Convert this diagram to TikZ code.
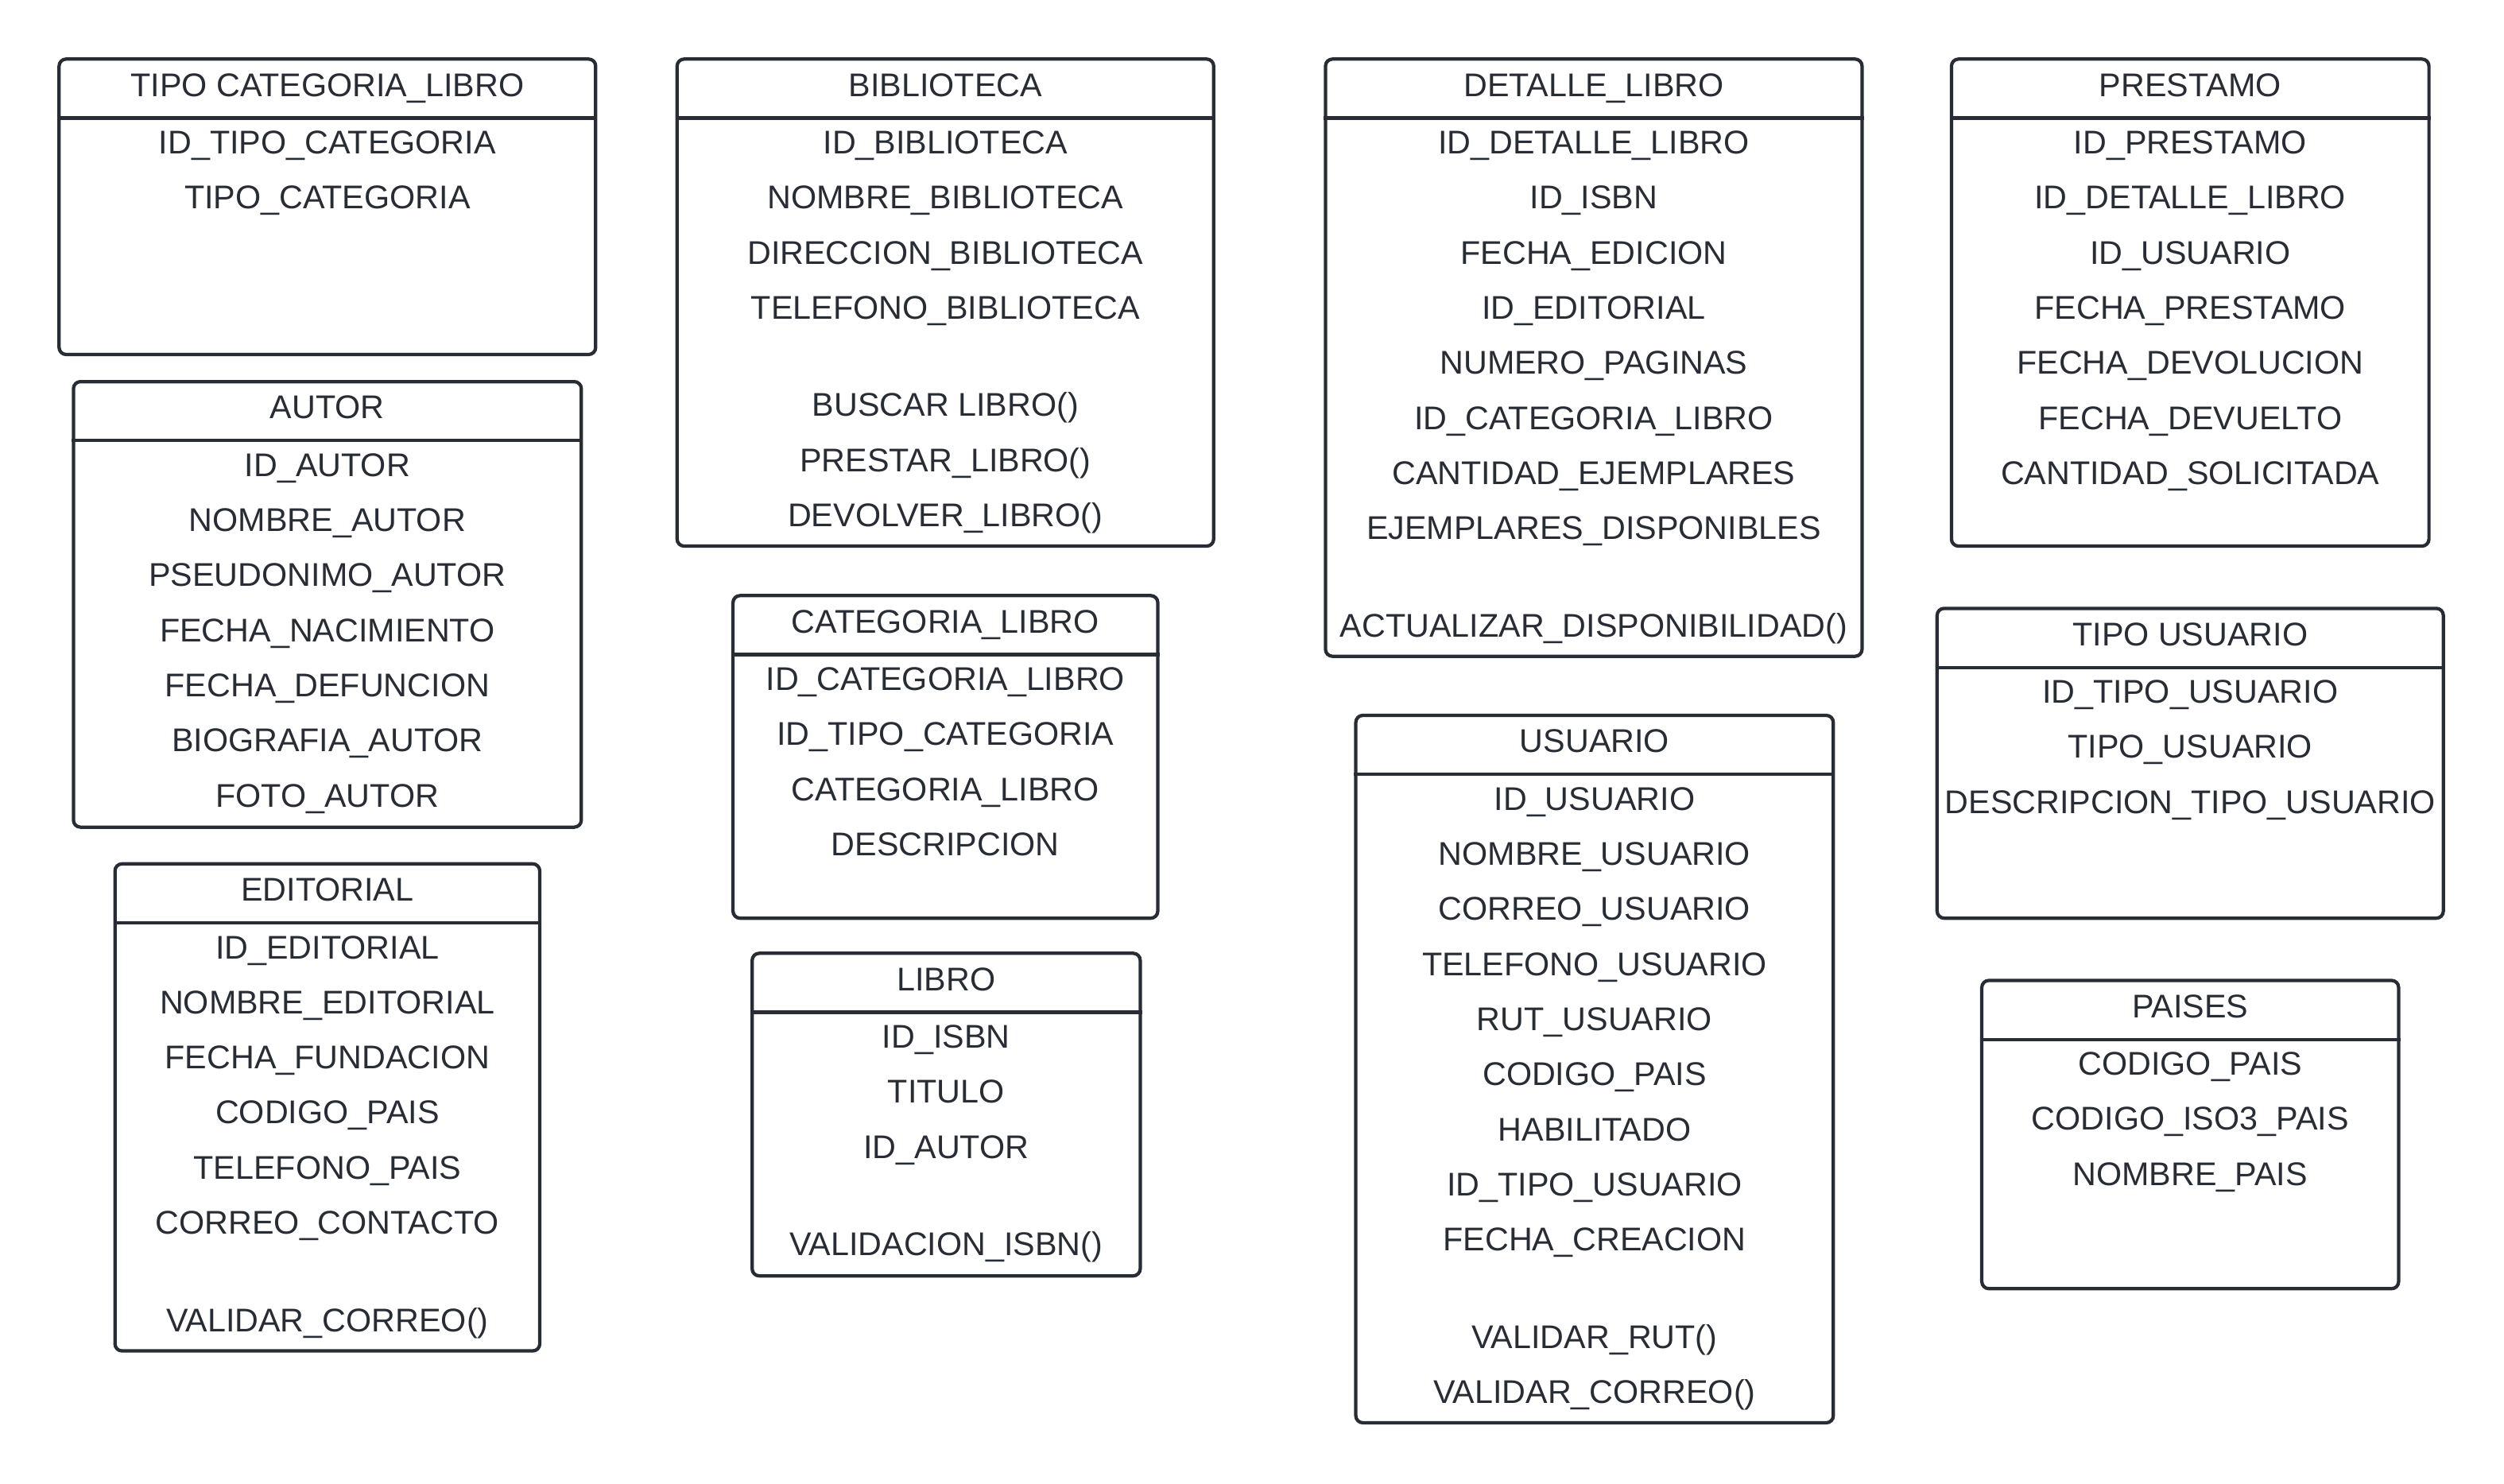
\documentclass[tikz,border=0pt]{standalone}
\usepackage{fontspec}
\setmainfont{Liberation Sans}
\usetikzlibrary{calc,fit}

\definecolor{trazo}{RGB}{40,44,52}

\tikzset{
  caja/.style={draw=trazo, line width=1.2pt, rounded corners=2.5pt, inner sep=0pt},
  cabecera/.style={draw=trazo, line width=1.2pt},
  titulo/.style={anchor=base, inner sep=0pt, yshift=-4.2pt, text=trazo,
    font=\fontsize{11.7pt}{14pt}\selectfont},
  fila/.style={titulo},
}

% caja de una entidad: nombre, izq, arriba, der, abajo, titulo, atributos
\newcommand{\entidad}[7]{%
  \node[caja, fit={(#2,#3) (#4,#5)}] (#1) {};
  \draw[cabecera] ($(#1.north west)+(0,38)$) -- ($(#1.north east)+(0,38)$);
  \node[titulo] (#1-t) at ($(#1.north)+(0,17)$) {#6};
  \foreach \t [count=\i] in {#7}
    \node[fila] (#1-\i) at ($(#1.north)+(0,{53+(\i-1)*34.5})$) {\t};
}
% metodos bajo los atributos: nombre, numero de atributos, metodos
\newcommand{\metodos}[3]{%
  \foreach \t [count=\j] in {#3}
    \node[fila] (#1-m\j) at ($(#1.north)+(0,{53+(#2-1)*34.5+61+(\j-1)*34.5})$) {\t};
}

\begin{document}
\begin{tikzpicture}[x=0.02cm, y=-0.02cm]
  \useasboundingbox (0,0) rectangle (1568,929);

  % columna 1
  \entidad{tipocat}{37}{37}{373}{222}{TIPO CATEGORIA\_LIBRO}
    {ID\_TIPO\_CATEGORIA, TIPO\_CATEGORIA}
  \entidad{autor}{46}{239}{364}{518}{AUTOR}
    {ID\_AUTOR, NOMBRE\_AUTOR, PSEUDONIMO\_AUTOR, FECHA\_NACIMIENTO,
     FECHA\_DEFUNCION, BIOGRAFIA\_AUTOR, FOTO\_AUTOR}
  \entidad{editorial}{72}{541}{338}{846}{EDITORIAL}
    {ID\_EDITORIAL, NOMBRE\_EDITORIAL, FECHA\_FUNDACION, CODIGO\_PAIS,
     TELEFONO\_PAIS, CORREO\_CONTACTO}
  \metodos{editorial}{6}{VALIDAR\_CORREO()}

  % columna 2
  \entidad{biblioteca}{424}{37}{760}{342}{BIBLIOTECA}
    {ID\_BIBLIOTECA, NOMBRE\_BIBLIOTECA, DIRECCION\_BIBLIOTECA,
     TELEFONO\_BIBLIOTECA}
  \metodos{biblioteca}{4}{BUSCAR LIBRO(), PRESTAR\_LIBRO(), DEVOLVER\_LIBRO()}
  \entidad{catlibro}{459}{373}{725}{575}{CATEGORIA\_LIBRO}
    {ID\_CATEGORIA\_LIBRO, ID\_TIPO\_CATEGORIA, CATEGORIA\_LIBRO, DESCRIPCION}
  \entidad{libro}{471}{597}{714}{799}{LIBRO}
    {ID\_ISBN, TITULO, ID\_AUTOR}
  \metodos{libro}{3}{VALIDACION\_ISBN()}

  % columna 3
  \entidad{detalle}{830}{37}{1166}{411}{DETALLE\_LIBRO}
    {ID\_DETALLE\_LIBRO, ID\_ISBN, FECHA\_EDICION, ID\_EDITORIAL,
     NUMERO\_PAGINAS, ID\_CATEGORIA\_LIBRO, CANTIDAD\_EJEMPLARES,
     EJEMPLARES\_DISPONIBLES}
  \metodos{detalle}{8}{ACTUALIZAR\_DISPONIBILIDAD()}
  \entidad{usuario}{849}{448}{1148}{891}{USUARIO}
    {ID\_USUARIO, NOMBRE\_USUARIO, CORREO\_USUARIO, TELEFONO\_USUARIO,
     RUT\_USUARIO, CODIGO\_PAIS, HABILITADO, ID\_TIPO\_USUARIO,
     FECHA\_CREACION}
  \metodos{usuario}{9}{VALIDAR\_RUT(), VALIDAR\_CORREO()}

  % columna 4
  \entidad{prestamo}{1222}{37}{1521}{342}{PRESTAMO}
    {ID\_PRESTAMO, ID\_DETALLE\_LIBRO, ID\_USUARIO, FECHA\_PRESTAMO,
     FECHA\_DEVOLUCION, FECHA\_DEVUELTO, CANTIDAD\_SOLICITADA}
  \entidad{tipousuario}{1213}{381}{1530}{575}{TIPO USUARIO}
    {ID\_TIPO\_USUARIO, TIPO\_USUARIO, DESCRIPCION\_TIPO\_USUARIO}
  \entidad{paises}{1241}{614}{1502}{807}{PAISES}
    {CODIGO\_PAIS, CODIGO\_ISO3\_PAIS, NOMBRE\_PAIS}
\end{tikzpicture}
\end{document}
